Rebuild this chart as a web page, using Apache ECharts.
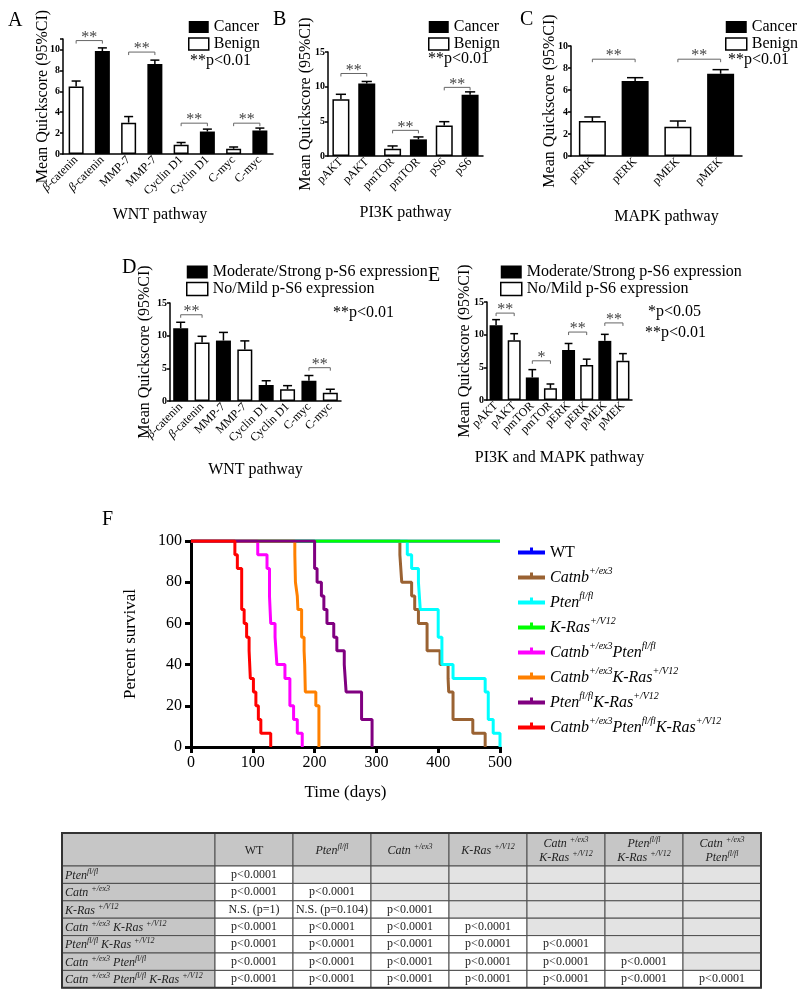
<!DOCTYPE html>
<html>
<head>
<meta charset="utf-8">
<title>Quickscore and survival</title>
<script src="https://cdn.jsdelivr.net/npm/echarts@6/dist/echarts.min.js"></script>
<style>
  html, body { margin: 0; padding: 0; background: #fff; }
  #main { width: 800px; height: 999px; }
</style>
</head>
<body>
<div id="main"></div>
<script>
// ---- panel A: WNT pathway, cancer vs benign
var aCategories = ['β-catenin', 'β-catenin', 'MMP-7', 'MMP-7', 'Cyclin D1', 'Cyclin D1', 'C-myc', 'C-myc'];
var aCancer = [null, 9.85, null, 8.6, null, 2.15, null, 2.25];
var aBenign = [6.45, null, 3.0, null, 0.88, null, 0.5, null];
var aUpper = [6.98, 10.15, 3.58, 8.98, 1.1, 2.38, 0.67, 2.48];
var aSig = [[0, 1, 10.85, '**'], [2, 3, 9.75, '**'], [4, 5, 2.95, '**'], [6, 7, 2.95, '**']];

// ---- panel B: PI3K pathway
var bCategories = ['pAKT', 'pAKT', 'pmTOR', 'pmTOR', 'pS6', 'pS6'];
var bCancer = [null, 10.45, null, 2.4, null, 8.85];
var bBenign = [8.2, null, 1.05, null, 4.4, null];
var bUpper = [8.9, 10.75, 1.45, 2.75, 4.95, 9.25];
var bSig = [[0, 1, 11.9, '**'], [2, 3, 3.7, '**'], [4, 5, 9.9, '**']];

// ---- panel C: MAPK pathway
var cCategories = ['pERK', 'pERK', 'pMEK', 'pMEK'];
var cCancer = [null, 6.82, null, 7.48];
var cBenign = [3.18, null, 2.67, null];
var cUpper = [3.55, 7.12, 3.18, 7.85];
var cSig = [[0, 1, 8.8, '**'], [2, 3, 8.8, '**']];

// ---- panel D: WNT pathway by p-S6 expression
var dCategories = ['β-catenin', 'β-catenin', 'MMP-7', 'MMP-7', 'Cyclin D1', 'Cyclin D1', 'C-myc', 'C-myc'];
var dStrong = [11.15, null, 9.25, null, 2.45, null, 3.1, null];
var dMild = [null, 8.95, null, 7.9, null, 1.8, null, 1.28];
var dUpper = [12.05, 9.9, 10.5, 9.2, 3.1, 2.35, 3.9, 1.8];
var dSig = [[0, 1, 13.2, '**'], [6, 7, 5.1, '**']];

// ---- panel E: PI3K and MAPK pathway by p-S6 expression
var eCategories = ['pAKT', 'pAKT', 'pmTOR', 'pmTOR', 'pERK', 'pERK', 'pMEK', 'pMEK'];
var eStrong = [11.45, null, 3.45, null, 7.65, null, 9.05, null];
var eMild = [null, 9.15, null, 1.78, null, 5.35, null, 6.0];
var eUpper = [12.3, 10.15, 4.65, 2.45, 8.65, 6.25, 10.05, 7.1];
var eSig = [[0, 1, 13.3, '**'], [2, 3, 6.0, '*'], [4, 5, 10.4, '**'], [6, 7, 11.8, '**']];

// ---- panel F: Kaplan-Meier, [day, percent survival] at each drop
var survNames = ['WT', 'Catnb^{+/ex3}', 'Pten^{fl/fl}', 'K-Ras^{+/V12}', 'Catnb^{+/ex3}Pten^{fl/fl}',
  'Catnb^{+/ex3}K-Ras^{+/V12}', 'Pten^{fl/fl}K-Ras^{+/V12}', 'Catnb^{+/ex3}Pten^{fl/fl}K-Ras^{+/V12}'];
var survColors = ['#0000ff', '#9a6232', '#00ffff', '#00ff00', '#ff00ff', '#ff8000', '#800080', '#ff0000'];
var wtSurv = [[0, 100], [500, 100]];
var catnbSurv = [[0, 100], [338, 93.3], [341, 80], [357, 73.3], [362, 66.7], [368, 60], [382, 46.7], [403, 40],
  [416, 33.3], [417, 26.7], [424, 13.3], [456, 6.7], [476, 0]];
var ptenSurv = [[0, 100], [350, 93.3], [357, 86.7], [368, 80], [371, 66.7], [400, 53.3], [406, 40], [424, 33.3],
  [476, 26.7], [481, 13.3], [489, 6.7], [500, 0]];
var krasSurv = [[0, 100], [500, 100]];
var catnbPtenSurv = [[0, 100], [108, 93.3], [123, 86.7], [127, 73.3], [129, 60], [136, 53.3], [139, 40],
  [152, 33.3], [160, 20], [166, 13.3], [172, 6.7], [180, 0]];
var catnbKrasSurv = [[0, 100], [168, 93.3], [169, 80], [172, 73.3], [173, 66.7], [179, 53.3], [183, 46.7],
  [184, 40], [185, 26.7], [202, 20], [207, 0]];
var ptenKrasSurv = [[0, 100], [200, 86.7], [204, 80], [211, 73.3], [215, 66.7], [220, 60], [231, 53.3],
  [236, 46.7], [248, 40], [251, 26.7], [276, 13.3], [293, 0]];
var tripleSurv = [[0, 100], [71, 93.3], [75, 86.7], [82, 66.7], [86, 60], [90, 53.3], [94, 46.7], [96, 33.3],
  [101, 26.7], [105, 20], [109, 13.3], [113, 6.7], [129, 0]];
var survData = [wtSurv, catnbSurv, ptenSurv, krasSurv, catnbPtenSurv, catnbKrasSurv, ptenKrasSurv, tripleSurv];
var survLayer = [2, 3, 3, 4, 5, 5, 6, 7]; // which line lies on top where they overlap

// ---- log-rank table
var tableColumns = ['WT', 'Pten^{fl/fl}', 'Catn ^{+/ex3}', 'K-Ras ^{+/V12}', 'Catn ^{+/ex3}|K-Ras ^{+/V12}',
  'Pten^{fl/fl}|K-Ras ^{+/V12}', 'Catn ^{+/ex3}|Pten^{fl/fl}'];
var tableRows = ['Pten^{fl/fl}', 'Catn ^{+/ex3}', 'K-Ras ^{+/V12}', 'Catn ^{+/ex3} K-Ras ^{+/V12}',
  'Pten^{fl/fl} K-Ras ^{+/V12}', 'Catn ^{+/ex3} Pten^{fl/fl}', 'Catn ^{+/ex3} Pten^{fl/fl} K-Ras ^{+/V12}'];
var tableValues = [
  ['p<0.0001'],
  ['p<0.0001', 'p<0.0001'],
  ['N.S. (p=1)', 'N.S. (p=0.104)', 'p<0.0001'],
  ['p<0.0001', 'p<0.0001', 'p<0.0001', 'p<0.0001'],
  ['p<0.0001', 'p<0.0001', 'p<0.0001', 'p<0.0001', 'p<0.0001'],
  ['p<0.0001', 'p<0.0001', 'p<0.0001', 'p<0.0001', 'p<0.0001', 'p<0.0001'],
  ['p<0.0001', 'p<0.0001', 'p<0.0001', 'p<0.0001', 'p<0.0001', 'p<0.0001', 'p<0.0001']
];

var serif = 'Liberation Serif';
var chart = echarts.init(document.getElementById('main'), null, {renderer: 'canvas'});

var grids = [], xAxes = [], yAxes = [], series = [], legends = [], graphics = [];

// 'Gene^{sup}' -> rich text, '|' is a line break
function toRich(str, base, sup) {
  if (str === 'WT') return '{n|WT}';
  return str.split('|').map(function (line) {
    var out = '';
    line.split(/(\^\{[^}]*\})/).forEach(function (part) {
      if (!part) return;
      if (part.charAt(0) === '^') out += '{' + sup + '|' + part.slice(2, -1) + '}';
      else out += '{' + base + '|' + part + '}';
    });
    return out;
  }).join('\n');
}

function errorBar(half) {
  return function (params, api) {
    var top = api.coord([api.value(0), api.value(1)]);
    var base = api.coord([api.value(0), api.value(2)]);
    var st = {stroke: '#000', lineWidth: 1.5};
    return {
      type: 'group', children: [
        {type: 'line', shape: {x1: top[0], y1: base[1], x2: top[0], y2: top[1]}, style: st},
        {type: 'line', shape: {x1: top[0] - half, y1: top[1], x2: top[0] + half, y2: top[1]}, style: st}
      ]
    };
  };
}

function bracket(marks) {
  return function (params, api) {
    var m = marks[params.dataIndex];
    var p1 = api.coord([m[0], m[2]]);
    var p2 = api.coord([m[1], m[2]]);
    return {
      type: 'group', children: [
        {
          type: 'polyline',
          shape: {points: [[p1[0], p1[1] + 3], [p1[0], p1[1]], [p2[0], p2[1]], [p2[0], p2[1] + 3]]},
          style: {stroke: '#666', lineWidth: 1, fill: null}
        },
        {
          type: 'text', x: (p1[0] + p2[0]) / 2, y: p1[1] + 5,
          style: {text: m[3], align: 'center', verticalAlign: 'bottom', font: '16px "Liberation Serif"', fill: '#444'}
        }
      ]
    };
  };
}

function barPanel(p) {
  var g = grids.length;
  grids.push({left: p.left, top: p.top, width: p.width, height: p.height});
  xAxes.push({
    type: 'category', gridIndex: g, data: p.categories,
    name: p.xName, nameLocation: 'middle', nameGap: p.xGap,
    nameTextStyle: {fontFamily: serif, fontSize: 16, color: '#000', padding: p.xPad || 0},
    axisLine: {lineStyle: {color: '#000', width: 1.5}},
    axisTick: {alignWithLabel: true, length: 4, lineStyle: {color: '#000', width: 1.5}},
    axisLabel: {
      interval: 0, rotate: 45, margin: 4, fontFamily: serif, fontSize: 12, color: '#000',
      formatter: function (v) { return v.charAt(0) === 'β' ? '{g|β}' + v.slice(1) : v; },
      rich: {g: {fontFamily: serif, fontStyle: 'italic', fontSize: 12, color: '#000'}}
    }
  });
  yAxes.push({
    type: 'value', gridIndex: g, min: 0, max: p.max, interval: p.interval,
    name: 'Mean Quickscore (95%CI)', nameLocation: 'middle', nameRotate: 90, nameGap: p.yGap,
    nameMoveOverlap: false,
    nameTextStyle: {fontFamily: serif, fontSize: 16, color: '#000'},
    splitLine: {show: false},
    axisLine: {show: true, lineStyle: {color: '#000', width: 1.5}},
    axisTick: {show: true, length: 3, lineStyle: {color: '#000', width: 1.5}},
    axisLabel: {
      fontFamily: serif, fontSize: 10, fontWeight: 'bold', color: '#000', margin: 3,
      formatter: function (v) { return v % p.interval === 0 ? String(v) : ''; }
    }
  });
  series.push({
    type: 'bar', name: p.names[0], xAxisIndex: g, yAxisIndex: g, data: p.dark,
    barWidth: p.barWidth, barGap: '-100%', itemStyle: {color: '#000'}, z: 3
  });
  series.push({
    type: 'bar', name: p.names[1], xAxisIndex: g, yAxisIndex: g, data: p.light,
    barWidth: p.barWidth, barGap: '-100%',
    itemStyle: {color: '#fff', borderColor: '#000', borderWidth: 1.5}, z: 3
  });
  series.push({
    type: 'custom', xAxisIndex: g, yAxisIndex: g, silent: true, z: 2,
    encode: {x: 0, y: 1},
    data: p.upper.map(function (u, i) {
      return [i, u, p.dark[i] != null ? p.dark[i] : p.light[i]];
    }),
    renderItem: errorBar(p.barWidth * 0.3)
  });
  series.push({
    type: 'custom', xAxisIndex: g, yAxisIndex: g, silent: true, z: 4,
    encode: {x: 0, y: 1},
    data: p.sig.map(function (s) { return [s[0], s[2]]; }),
    renderItem: bracket(p.sig)
  });
  legends.push({
    left: p.legendLeft, top: p.legendTop, orient: 'vertical', padding: 0,
    itemWidth: p.legendW, itemHeight: p.legendH, itemGap: 1, icon: 'rect', selectedMode: false,
    textStyle: {fontFamily: serif, fontSize: 16, color: '#000', lineHeight: 14},
    data: [
      {name: p.names[0], itemStyle: {color: '#000', borderWidth: 0}},
      {name: p.names[1], itemStyle: {color: '#fff', borderColor: '#000', borderWidth: 1.5}}
    ]
  });
}

var cb = ['Cancer', 'Benign'];
var ps6 = ['Moderate/Strong p-S6 expression', 'No/Mild p-S6 expression'];

barPanel({left: 63, top: 39, width: 210, height: 115, max: 11, interval: 2, yGap: 12,
  categories: aCategories, dark: aCancer, light: aBenign, upper: aUpper, sig: aSig, names: cb,
  barWidth: 15, xName: 'WNT pathway', xGap: 53, xPad: [0, 16, 0, 0],
  legendLeft: 188, legendTop: 19, legendW: 20, legendH: 12});
barPanel({left: 328, top: 52, width: 155, height: 104, max: 15, interval: 5, yGap: 14,
  categories: bCategories, dark: bCancer, light: bBenign, upper: bUpper, sig: bSig, names: cb,
  barWidth: 17, xName: 'PI3K pathway', xGap: 49,
  legendLeft: 428, legendTop: 19, legendW: 20, legendH: 12});
barPanel({left: 571, top: 46, width: 171, height: 110, max: 10, interval: 2, yGap: 13,
  categories: cCategories, dark: cCancer, light: cBenign, upper: cUpper, sig: cSig, names: cb,
  barWidth: 27, xName: 'MAPK pathway', xGap: 53, xPad: [0, 0, 0, 20],
  legendLeft: 725, legendTop: 19, legendW: 21, legendH: 12});
barPanel({left: 170, top: 303, width: 171, height: 98, max: 15, interval: 5, yGap: 17,
  categories: dCategories, dark: dStrong, light: dMild, upper: dUpper, sig: dSig, names: ps6,
  barWidth: 15, xName: 'WNT pathway', xGap: 61,
  legendLeft: 186, legendTop: 264, legendW: 21, legendH: 13});
barPanel({left: 487, top: 302, width: 145, height: 98, max: 15, interval: 5, yGap: 14,
  categories: eCategories, dark: eStrong, light: eMild, upper: eUpper, sig: eSig, names: ps6,
  barWidth: 13, xName: 'PI3K and MAPK pathway', xGap: 50,
  legendLeft: 500, legendTop: 264, legendW: 21, legendH: 13});

// ---- survival panel
var fg = grids.length;
grids.push({left: 191, top: 541, width: 309, height: 206});
xAxes.push({
  type: 'value', gridIndex: fg, min: 0, max: 500, interval: 100,
  name: 'Time (days)', nameLocation: 'middle', nameGap: 37,
  nameTextStyle: {fontFamily: serif, fontSize: 17, color: '#000'},
  splitLine: {show: false},
  axisLine: {lineStyle: {color: '#000', width: 3}},
  axisTick: {length: 6, lineStyle: {color: '#000', width: 3}},
  axisLabel: {fontFamily: serif, fontSize: 16, color: '#000', margin: 8}
});
yAxes.push({
  type: 'value', gridIndex: fg, min: 0, max: 100, interval: 20,
  name: 'Percent survival', nameLocation: 'middle', nameRotate: 90, nameGap: 52,
  nameTextStyle: {fontFamily: serif, fontSize: 17, color: '#000'},
  splitLine: {show: false},
  axisLine: {show: true, lineStyle: {color: '#000', width: 3}},
  axisTick: {show: true, length: 6, lineStyle: {color: '#000', width: 3}},
  axisLabel: {fontFamily: serif, fontSize: 16, color: '#000', margin: 9}
});
survNames.forEach(function (name, i) {
  series.push({
    type: 'line', name: name, xAxisIndex: fg, yAxisIndex: fg, data: survData[i],
    step: 'end', showSymbol: false, z: survLayer[i],
    color: survColors[i], lineStyle: {color: survColors[i], width: 3}
  });
});
legends.push({
  left: 518, top: 545, orient: 'vertical', padding: 0, itemGap: 5, selectedMode: false,
  itemWidth: 27, itemHeight: 8,
  icon: 'path://M0,4H12V1H15V4H27V8H0Z',
  data: survNames,
  formatter: function (name) { return toRich(name, 'i', 's'); },
  textStyle: {
    fontFamily: serif, fontSize: 16, color: '#000',
    rich: {
      n: {fontFamily: serif, fontSize: 16, lineHeight: 20, verticalAlign: 'bottom', color: '#000'},
      i: {fontFamily: serif, fontSize: 16, fontStyle: 'italic', lineHeight: 20, verticalAlign: 'bottom', color: '#000'},
      s: {fontFamily: serif, fontSize: 10, fontStyle: 'italic', lineHeight: 10, verticalAlign: 'top', color: '#000'}
    }
  }
});

// ---- panel letters and p-value notes
function addText(x, y, text, size) {
  graphics.push({type: 'text', left: x, top: y,
    style: {text: text, font: (size || 16) + 'px "Liberation Serif"', fill: '#000'}});
}
addText(8, 11, 'A', 20);
addText(273, 10, 'B', 20);
addText(520, 10, 'C', 20);
addText(122, 258, 'D', 20);
addText(428, 266, 'E', 20);
addText(102, 510, 'F', 20);
addText(190, 53, '**p<0.01');
addText(428, 51, '**p<0.01');
addText(728, 52, '**p<0.01');
addText(333, 305, '**p<0.01');
addText(648, 304, '*p<0.05');
addText(645, 325, '**p<0.01');

// ---- table
var tblLeft = 62, tblTop = 833, firstW = 153, colW = 78, headH = 33, rowH = 17.4;
var tblRich = {
  n: {fontFamily: serif, fontSize: 12, lineHeight: 14, verticalAlign: 'bottom', fill: '#222'},
  i: {fontFamily: serif, fontSize: 12, fontStyle: 'italic', lineHeight: 14, verticalAlign: 'bottom', fill: '#222'},
  s: {fontFamily: serif, fontSize: 8, fontStyle: 'italic', lineHeight: 7, verticalAlign: 'top', fill: '#222'}
};
function cell(x, y, w, h, fill) {
  graphics.push({type: 'rect', shape: {x: x, y: y, width: w, height: h},
    style: {fill: fill, stroke: '#4d4d4d', lineWidth: 1}, z: 1});
}
cell(tblLeft, tblTop, firstW, headH, '#c6c6c6');
tableColumns.forEach(function (c, j) {
  var x = tblLeft + firstW + j * colW;
  cell(x, tblTop, colW, headH, '#c6c6c6');
  graphics.push({type: 'text', z: 2, x: x + colW / 2, y: tblTop + headH / 2,
    style: {text: toRich(c, 'i', 's'), rich: tblRich, align: 'center', verticalAlign: 'middle'}});
});
tableRows.forEach(function (r, i) {
  var y = tblTop + headH + i * rowH;
  cell(tblLeft, y, firstW, rowH, '#c6c6c6');
  graphics.push({type: 'text', z: 2, x: tblLeft + 3, y: y + rowH / 2,
    style: {text: toRich(r, 'i', 's'), rich: tblRich, align: 'left', verticalAlign: 'middle'}});
  tableColumns.forEach(function (c, j) {
    var x = tblLeft + firstW + j * colW;
    var v = tableValues[i][j];
    cell(x, y, colW, rowH, v ? '#fff' : '#e3e3e3');
    if (v) {
      graphics.push({type: 'text', z: 2, x: x + colW / 2, y: y + rowH / 2,
        style: {text: v, font: '12px "Liberation Serif"', fill: '#222', align: 'center', verticalAlign: 'middle'}});
    }
  });
});
graphics.push({type: 'rect', z: 3,
  shape: {x: tblLeft, y: tblTop, width: firstW + colW * tableColumns.length, height: headH + rowH * tableRows.length},
  style: {fill: null, stroke: '#333', lineWidth: 2}});

chart.setOption({
  animation: false,
  backgroundColor: '#fff',
  textStyle: {fontFamily: serif},
  grid: grids,
  xAxis: xAxes,
  yAxis: yAxes,
  legend: legends,
  series: series,
  graphic: graphics
});
</script>
</body>
</html>
